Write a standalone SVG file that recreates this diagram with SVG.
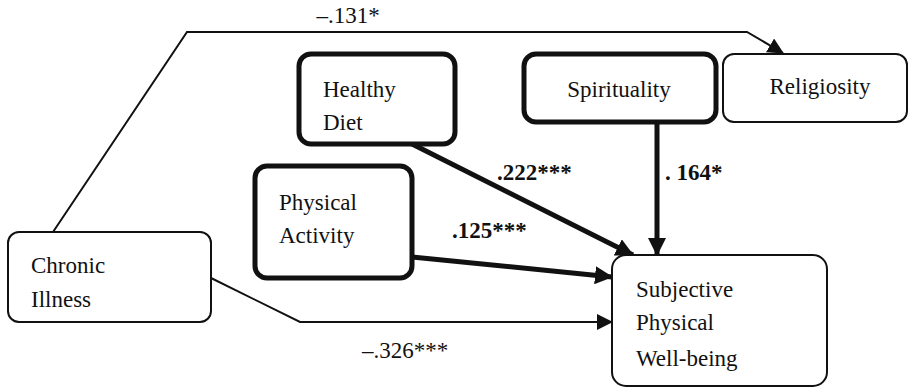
<svg xmlns="http://www.w3.org/2000/svg" width="909" height="388" viewBox="0 0 909 388" font-family="'Liberation Serif', 'DejaVu Serif', serif">
<style>
text{font-family:'Liberation Serif','DejaVu Serif',serif;font-size:23px;fill:#111}
.b{font-weight:bold}
.thin{fill:#fff;stroke:#111;stroke-width:2}
.thick{fill:#fff;stroke:#111;stroke-width:5}
.c{fill:none;stroke:#111;stroke-width:2}
.ct{fill:none;stroke:#111;stroke-width:5}
</style>
<defs>
<marker id="a" markerUnits="userSpaceOnUse" markerWidth="16" markerHeight="16" viewBox="0 0 16 16" refX="15" refY="8" orient="auto"><path d="M0,0L16,8L0,16Z" fill="#111"/></marker>
<marker id="at" markerUnits="userSpaceOnUse" markerWidth="18" markerHeight="18" viewBox="0 0 18 18" refX="17" refY="9" orient="auto"><path d="M0,0L18,9L0,18Z" fill="#111"/></marker>
</defs>
<g id="connectors">
<polyline class="c" points="53,232 187,32 747,32 783,53" marker-end="url(#a)"/>
<polyline class="c" points="211,278 300,322 612,322" marker-end="url(#a)"/>
<line class="ct" x1="412" y1="144" x2="633" y2="255" marker-end="url(#at)"/>
<line class="ct" x1="657" y1="122" x2="657" y2="255" marker-end="url(#at)"/>
<line class="ct" x1="412" y1="257" x2="612" y2="277" marker-end="url(#at)"/>
<text x="348" y="23" text-anchor="middle">–.131*</text>
<text class="b" x="497" y="180">.222***</text>
<text class="b" x="665" y="180">. 164*</text>
<text class="b" x="452" y="238">.125***</text>
<text x="362" y="358">–.326***</text>
</g>
<g id="chronic">
<rect class="thin" x="8" y="232" width="203" height="90" rx="11"/>
<text x="31" y="273">Chronic</text>
<text x="31" y="307">Illness</text>
</g>
<g id="religiosity">
<rect class="thin" x="723" y="54" width="184" height="68" rx="11"/>
<text x="820" y="94" text-anchor="middle">Religiosity</text>
</g>
<g id="healthy-diet">
<rect class="thick" x="299" y="54" width="156" height="90" rx="12"/>
<text x="323" y="97">Healthy</text>
<text x="323" y="130">Diet</text>
</g>
<g id="spirituality">
<rect class="thick" x="524" y="54" width="192" height="68" rx="12"/>
<text x="619" y="97" text-anchor="middle">Spirituality</text>
</g>
<g id="physical-activity">
<rect class="thick" x="255" y="166" width="157" height="112" rx="12"/>
<text x="279" y="210">Physical</text>
<text x="279" y="243">Activity</text>
</g>
<g id="subjective">
<rect class="thin" x="612" y="255" width="215" height="131" rx="14"/>
<text x="636" y="297">Subjective</text>
<text x="636" y="330">Physical</text>
<text x="636" y="366">Well-being</text>
</g>
</svg>
